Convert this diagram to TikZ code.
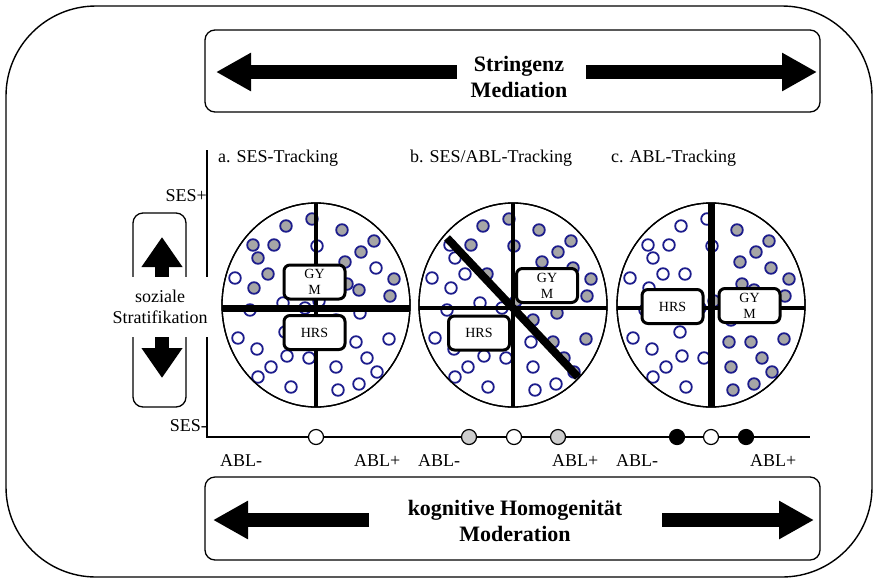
\documentclass[tikz,border=0pt]{standalone}
\usepackage{fontspec}
\setmainfont{Liberation Serif}
\usetikzlibrary{arrows.meta}
\definecolor{dotblue}{RGB}{28,28,140}
\definecolor{dotgray}{RGB}{166,166,166}
\definecolor{axgray}{RGB}{205,205,205}

\tikzset{
  frame/.style={draw, line width=1.3pt, rounded corners=10pt},
  bigarrow/.style={line width=14pt, -{Triangle[length=35pt,width=36pt]}},
  sidearrow/.style={line width=14pt, -{Triangle[length=30pt,width=39pt]}},
  lbl/.style={font=\fontsize{18}{21}\selectfont, inner sep=0pt},
  heading/.style={font=\fontsize{22}{26}\selectfont\bfseries, align=center, inner sep=0pt},
  school/.style={draw, line width=3pt, rounded corners=6pt, fill=white,
    minimum width=61pt, minimum height=34pt, inner sep=0pt, align=center,
    font=\fontsize{14}{16}\selectfont},
  pupilg/.style={draw=dotblue, fill=dotgray, line width=1.8pt},
  pupilw/.style={draw=dotblue, fill=white, line width=1.8pt},
  axdot/.style={circle, draw, line width=1.2pt, minimum size=15pt, inner sep=0pt},
  rim/.style={line width=1.3pt},
}

% pupil positions relative to the centre of a school circle,
% with the fill (g = grey, w = white) for tracking a, b and c
\newcommand{\pupils}{%
  -30/-79/g/g/w, -4/-86/g/g/w, -63/-60/g/w/w, -42/-60/g/g/w, -58/-47/g/w/w,
  -48/-31/g/w/w, -62/-17/g/w/w, 26/-75/g/g/g, 58/-64/g/g/g, 45/-53/g/g/g,
  29/-43/g/g/g, 78/-26/g/g/g, 43/-15/g/g/g, 74/-9/g/g/g, 31/-21/g/g/g,
  1/-59/w/g/w, -81/-27/w/w/w, 60/-37/w/g/g, -66/5/w/w/w, -33/-2/w/w/w,
  -11/3/w/w/w, 3/-4/w/g/g, 44/8/w/g/g, -78/33/w/w/w, -59/44/w/w/w,
  -31/27/w/w/w, -29/51/w/w/w, -45/62/w/w/w, -58/72/w/w/w, -25/82/w/w/w,
  -7/53/w/w/w, 40/37/w/g/g, 73/34/w/g/g, 51/53/w/g/g, 20/62/w/w/g,
  61/67/w/g/g, 43/79/w/w/g, 22/85/w/w/g, -26/-31/g/g/w, 18/37/w/w/g,
  20/15/w/g/g}

\begin{document}
\begin{tikzpicture}[x=1pt, y=-1pt]
\useasboundingbox (0,0) rectangle (874,579);

% outer frame
\draw[line width=1.4pt, rounded corners=90pt] (6,6) rectangle (872,577);

% top panel: stringency / mediation
\draw[frame] (205,30) rectangle (820,112);
\node[heading] (top) at (519,77) {Stringenz\\Mediation};
\coordinate (tlTail) at (457,72);
\coordinate (tlTip) at (216,72);
\coordinate (trTail) at (586,72);
\coordinate (trTip) at (817,72);
\draw[bigarrow] (tlTail) -- (tlTip);
\draw[bigarrow] (trTail) -- (trTip);

% bottom panel: cognitive homogeneity / moderation
\draw[frame] (205,477) rectangle (820,560);
\node[heading] (bottom) at (515,521) {kognitive Homogenität\\Moderation};
\coordinate (blTail) at (369,520);
\coordinate (blTip) at (213,520);
\coordinate (brTail) at (662,520);
\coordinate (brTip) at (814,520);
\draw[bigarrow] (blTail) -- (blTip);
\draw[bigarrow] (brTail) -- (brTip);

% left panel: social stratification
\draw[frame] (133,213) rectangle (186,407);
\coordinate (upTail) at (162,277);
\coordinate (upTip) at (162,237);
\coordinate (dnTail) at (162,337);
\coordinate (dnTip) at (162,378);
\draw[sidearrow] (upTail) -- (upTip);
\draw[sidearrow] (dnTail) -- (dnTip);

% axes
\coordinate (axTop) at (207,150);
\coordinate (axOrigin) at (207,437);
\coordinate (axEnd) at (810,437);
\draw[line width=1.8pt] (axTop) -- (axOrigin) -- (axEnd);
\node[lbl, fill=white, minimum width=96pt, minimum height=60pt, align=center]
  (strat) at (160,307) {soziale\\Stratifikation};
\node[lbl, anchor=east] (sesHi) at (207,196) {SES+};
\node[lbl, anchor=east] (sesLo) at (207,426) {SES-};

% headings of the three tracking forms
\node[lbl, anchor=west] (ha) at (218,158) {a. SES-Tracking};
\node[lbl, anchor=west] (hb) at (410,158) {b. SES/ABL-Tracking};
\node[lbl, anchor=west] (hc) at (611,158) {c. ABL-Tracking};

% ability labels under the axis
\node[lbl, anchor=west] (a1) at (220,461) {ABL-};
\node[lbl, anchor=west] (a2) at (354,461) {ABL+};
\node[lbl, anchor=west] (a3) at (418,461) {ABL-};
\node[lbl, anchor=west] (a4) at (552,461) {ABL+};
\node[lbl, anchor=west] (a5) at (616,461) {ABL-};
\node[lbl, anchor=west] (a6) at (750,461) {ABL+};

% school means on the ability axis
\node[axdot, fill=white] (m1) at (316,437) {};
\node[axdot, fill=axgray] (m2) at (469,437) {};
\node[axdot, fill=white] (m3) at (514,437) {};
\node[axdot, fill=axgray] (m4) at (558,437) {};
\node[axdot, fill=black] (m5) at (677,437) {};
\node[axdot, fill=white] (m6) at (711,437) {};
\node[axdot, fill=black] (m7) at (746,437) {};

% a. SES tracking
\begin{scope}[shift={(316,305)}]
  \draw[rim, fill=white] (0,0) ellipse [x radius=94pt, y radius=102pt];
  \foreach \dx/\dy/\fa/\fb/\fc in \pupils
    \draw[pupil\fa] (\dx,\dy) circle [radius=5.8pt];
  \begin{scope}
    \clip (0,0) ellipse [x radius=94pt, y radius=102pt];
    \draw[line width=4pt] (0,-120) -- (0,120);
    \draw[line width=7pt] (-120,3) -- (120,3);
  \end{scope}
  \draw[rim] (0,0) ellipse [x radius=94pt, y radius=102pt];
  \node[school] (gymA) at (-1.5,-23) {GY\\M};
  \node[school] (hrsA) at (-1.5,27.5) {HRS};
\end{scope}

% b. SES/ABL tracking
\begin{scope}[shift={(513,305)}]
  \draw[rim, fill=white] (0,0) ellipse [x radius=94pt, y radius=102pt];
  \foreach \dx/\dy/\fa/\fb/\fc in \pupils
    \draw[pupil\fb] (\dx,\dy) circle [radius=5.8pt];
  \begin{scope}
    \clip (0,0) ellipse [x radius=94pt, y radius=102pt];
    \draw[line width=3.5pt] (0,-120) -- (0,120);
    \draw[line width=3.5pt] (-120,3) -- (120,3);
  \end{scope}
  \draw[line width=8pt] (-66,-67) -- (65,72);
  \draw[rim] (0,0) ellipse [x radius=94pt, y radius=102pt];
  \node[school] (gymB) at (34,-19.5) {GY\\M};
  \node[school] (hrsB) at (-34,28) {HRS};
\end{scope}

% c. ABL tracking
\begin{scope}[shift={(711,305)}]
  \draw[rim, fill=white] (0,0) ellipse [x radius=94pt, y radius=102pt];
  \foreach \dx/\dy/\fa/\fb/\fc in \pupils
    \draw[pupil\fc] (\dx,\dy) circle [radius=5.8pt];
  \begin{scope}
    \clip (0,0) ellipse [x radius=94pt, y radius=102pt];
    \draw[line width=7pt] (0,-120) -- (0,120);
    \draw[line width=4pt] (-120,3) -- (120,3);
  \end{scope}
  \draw[rim] (0,0) ellipse [x radius=94pt, y radius=102pt];
  \node[school] (hrsC) at (-38.5,1.5) {HRS};
  \node[school] (gymC) at (38.5,0.5) {GY\\M};
\end{scope}

\end{tikzpicture}
\end{document}
